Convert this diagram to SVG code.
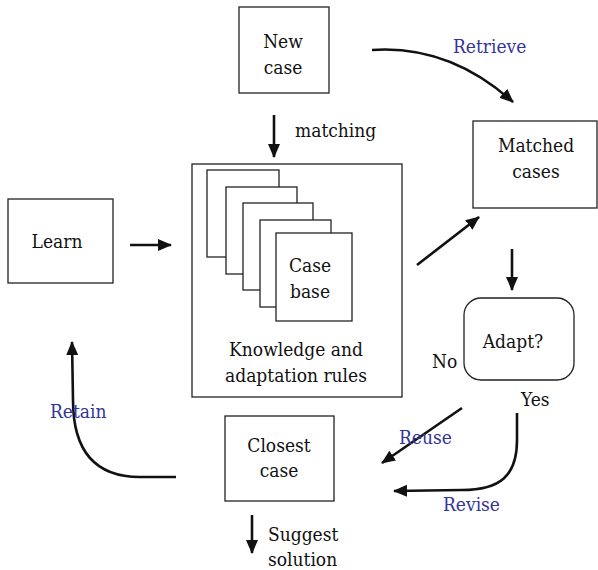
<svg xmlns="http://www.w3.org/2000/svg" width="598" height="570" viewBox="0 0 598 570" font-family="DejaVu Serif Condensed, DejaVu Serif, serif" font-size="19">
  <style>
    .box { fill: #fff; stroke: #222; stroke-width: 1.3; }
    .t { fill: #111; font-stretch: condensed; }
    .c { text-anchor: middle; }
    .lbl { fill: #33339a; font-stretch: condensed; }
    .arr { fill: none; stroke: #111; stroke-width: 2.6; marker-end: url(#head); }
  </style>
  <defs>
    <marker id="head" markerUnits="userSpaceOnUse" markerWidth="16" markerHeight="14" refX="13" refY="6" orient="auto">
      <path d="M0,0 L14,6 L0,12 Z" fill="#111"/>
    </marker>
  </defs>
  <rect width="598" height="570" fill="#fff"/>

  <g id="new-case">
    <rect class="box" x="239" y="7" width="90" height="86"/>
    <text class="t c" x="283" y="48">New</text>
    <text class="t c" x="283" y="74">case</text>
  </g>

  <g id="knowledge">
    <rect class="box" x="192" y="164" width="210" height="233"/>
    <rect class="box" x="207" y="170" width="72" height="87"/>
    <rect class="box" x="226" y="187" width="71" height="87"/>
    <rect class="box" x="243" y="203" width="70" height="87"/>
    <rect class="box" x="260" y="220" width="71" height="87"/>
    <rect class="box" x="276" y="233" width="76" height="88"/>
    <text class="t c" x="310" y="272">Case</text>
    <text class="t c" x="310" y="298">base</text>
    <text class="t c" x="296" y="356">Knowledge and</text>
    <text class="t c" x="296" y="382">adaptation rules</text>
  </g>

  <g id="matched-cases">
    <rect class="box" x="473" y="121" width="124" height="87"/>
    <text class="t c" x="536" y="152">Matched</text>
    <text class="t c" x="536" y="178">cases</text>
  </g>

  <g id="learn">
    <rect class="box" x="8" y="199" width="105" height="84"/>
    <text class="t c" x="57" y="248">Learn</text>
  </g>

  <g id="adapt">
    <rect class="box" x="464" y="298" width="110" height="82" rx="17" ry="17"/>
    <text class="t c" x="513" y="348">Adapt?</text>
  </g>

  <g id="closest-case">
    <rect class="box" x="225" y="416" width="109" height="85"/>
    <text class="t c" x="279" y="452">Closest</text>
    <text class="t c" x="279" y="477">case</text>
  </g>

  <g id="connectors">
    <path class="arr" d="M274,115 L274,157"/>
    <path class="arr" d="M372,50 C430,46 475,68 513,102"/>
    <path class="arr" d="M130,245 L171,245"/>
    <path class="arr" d="M417,265 L479,217"/>
    <path class="arr" d="M512,249 L512,290"/>
    <path class="arr" d="M462,408 L382,463"/>
    <path class="arr" d="M517,413 L517,440 C517,476 500,490 462,490 L394,491"/>
    <path class="arr" d="M176,477 L140,477 C96,477 73,452 73,400 L72,342"/>
    <path class="arr" d="M252,515 L252,553"/>
  </g>

  <g id="labels">
    <text class="t" x="295" y="137">matching</text>
    <text class="lbl" x="453" y="53">Retrieve</text>
    <text class="lbl" x="50" y="418">Retain</text>
    <text class="lbl" x="399" y="444">Reuse</text>
    <text class="lbl" x="443" y="511">Revise</text>
    <text class="t" x="432" y="368">No</text>
    <text class="t" x="521" y="406">Yes</text>
    <text class="t" x="268" y="541">Suggest</text>
    <text class="t" x="268" y="566">solution</text>
  </g>
</svg>
